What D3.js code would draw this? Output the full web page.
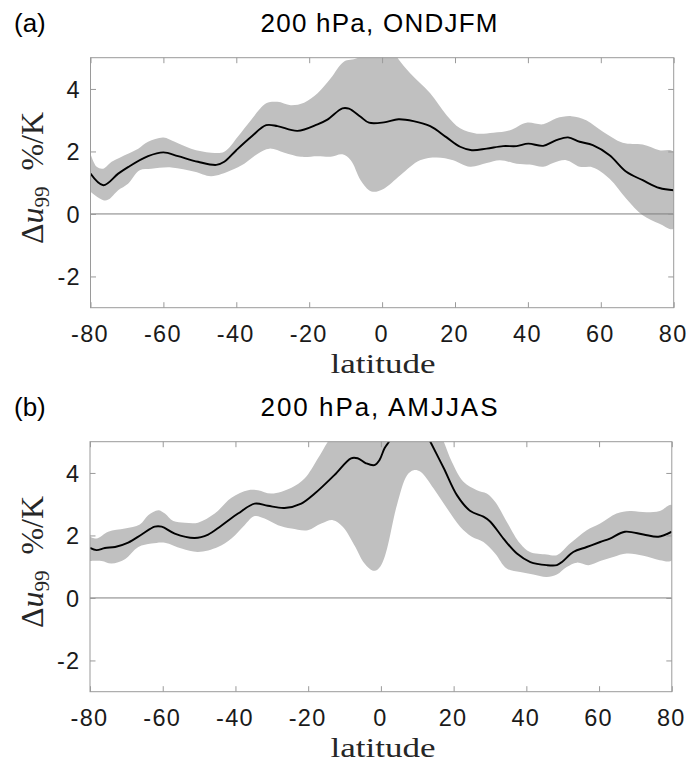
<!DOCTYPE html>
<html><head><meta charset="utf-8">
<script src="https://cdn.jsdelivr.net/npm/d3@7"></script>
<style>body{margin:0;background:#fff}</style>
</head><body><svg id="c" width="689" height="764"></svg>
<script>
// ---- data ----
const latTicks = [-80, -60, -40, -20, 0, 20, 40, 60, 80];
const valTicks = [-2, 0, 2, 4];
const panelLabels = ["(a)", "(b)"];
const panelTitles = ["200 hPa, ONDJFM", "200 hPa, AMJJAS"];
const xLabel = "latitude";

// panel (a) ONDJFM: [latitude, %/K]
const aMean = [[-80,1.29],[-76.5,0.92],[-72.4,1.29],[-69.7,1.5],[-64.2,1.85],[-60,1.97],[-56,1.85],[-50.5,1.67],[-45.5,1.57],[-43.3,1.67],[-40,2.04],[-35.9,2.47],[-31.8,2.84],[-28.7,2.81],[-23.2,2.66],[-17.7,2.87],[-15,3.02],[-10.9,3.38],[-9.1,3.37],[-5.9,3.11],[-3.6,2.92],[0.5,2.93],[4.5,3.03],[8.6,2.97],[13.2,2.81],[17.7,2.45],[21.4,2.15],[24.6,2.04],[28.7,2.09],[33.2,2.17],[36.9,2.17],[40.1,2.25],[44.2,2.18],[47.8,2.36],[51,2.45],[54.2,2.31],[57.8,2.2],[62.4,1.88],[67,1.35],[71.5,1.08],[76.1,0.83],[80,0.76]];
const aUpper = [[-80,1.93],[-78.3,1.51],[-76.5,1.45],[-74.2,1.67],[-69.7,1.93],[-66.9,2.09],[-64.2,2.31],[-60,2.45],[-56.9,2.31],[-52.4,2.09],[-46.9,1.96],[-43.3,1.99],[-39.6,2.47],[-36,3.0],[-31.8,3.54],[-28.7,3.59],[-25.1,3.48],[-21.4,3.56],[-17.7,3.86],[-14.1,4.34],[-10.5,4.87],[-6.9,4.98],[-4,5.2],[0,5.4],[3,5.2],[4.5,4.95],[7.7,4.5],[13.2,3.86],[17.7,3.16],[21.4,2.74],[26,2.57],[30.5,2.6],[35.1,2.68],[39.6,2.92],[44.2,2.87],[47.8,3.06],[51.9,3.13],[56,3.0],[60.6,2.63],[66,2.28],[71.5,2.22],[76.1,2.04],[80,1.99]];
const aLower = [[-80,0.71],[-76.5,0.44],[-75.1,0.46],[-72.4,0.76],[-69.7,0.97],[-66.5,1.4],[-63.3,1.45],[-57.8,1.49],[-51.4,1.35],[-46.9,1.21],[-41.4,1.4],[-37.8,1.61],[-34.1,1.93],[-30.9,2.09],[-26.8,1.96],[-22.3,1.83],[-17.7,1.85],[-14.1,1.83],[-10.9,1.91],[-8.6,1.72],[-5.9,1.08],[-3.6,0.76],[-2.2,0.71],[0.5,0.81],[5,1.24],[10.4,1.72],[15,1.81],[19.5,1.72],[24.1,1.51],[28.7,1.63],[32.3,1.72],[36.9,1.61],[40.5,1.58],[44.2,1.51],[46.9,1.63],[50.5,1.72],[54.2,1.51],[57.8,1.49],[62.4,1.13],[67,0.49],[71.5,-0.04],[76.1,-0.31],[80,-0.47]];

// panel (b) AMJJAS
const bMean = [[-80,1.6],[-78.2,1.53],[-75.9,1.6],[-73.1,1.63],[-69.5,1.77],[-65.8,2.03],[-62.2,2.28],[-60.3,2.28],[-56.7,2.06],[-51.2,1.92],[-47.5,2.03],[-43.9,2.31],[-39.3,2.7],[-34.7,3.02],[-31.1,2.95],[-26.5,2.88],[-21.9,3.02],[-18.2,3.34],[-12.8,3.93],[-8.2,4.47],[-6.4,4.47],[-4.1,4.31],[-1.8,4.25],[-0.4,4.41],[1,4.79],[2.2,5.0],[5,5.6],[8,5.8],[11,5.6],[13.6,5.0],[17.3,4.15],[20.9,3.29],[24.6,2.78],[28.2,2.6],[30.1,2.44],[33.7,1.9],[37.4,1.42],[41.1,1.15],[45.6,1.05],[48.4,1.05],[49.8,1.15],[52.9,1.47],[56.6,1.63],[60.3,1.79],[63,1.9],[67.1,2.12],[72.2,2.03],[76.3,1.96],[80,2.12]];
const bUpper = [[-80,1.96],[-78.2,1.9],[-75,2.12],[-70.4,2.22],[-66.3,2.35],[-64,2.65],[-61.2,2.81],[-59.4,2.7],[-57.1,2.46],[-53.9,2.41],[-50.3,2.41],[-45.7,2.7],[-41.1,3.21],[-36.5,3.45],[-33.8,3.45],[-30.1,3.34],[-24.6,3.53],[-21,3.82],[-17.3,4.47],[-14.6,5.0],[-10,5.8],[0,6.5],[10,6.5],[15,5.6],[17.3,5.0],[19.5,4.36],[22.7,3.72],[26.4,3.45],[29.1,3.34],[31.4,3.08],[34.6,2.44],[38.3,1.74],[41,1.47],[45.6,1.39],[48.4,1.37],[52,1.74],[56.6,2.17],[60.3,2.38],[64.8,2.7],[68.5,2.78],[73.1,2.74],[76.7,2.78],[80,2.97]];
const bLower = [[-80,1.18],[-76.8,1.18],[-74.1,1.1],[-70.4,1.24],[-66.7,1.63],[-63.1,1.74],[-59.4,1.77],[-54.8,1.58],[-50.3,1.47],[-44.8,1.63],[-41.1,1.9],[-37.5,2.33],[-34.7,2.62],[-32,2.54],[-28.3,2.33],[-24.6,2.22],[-20.1,2.17],[-16.4,2.38],[-13.2,2.49],[-10.5,2.28],[-7.3,1.69],[-4.5,1.1],[-2.2,0.87],[-0.8,0.92],[0.5,1.15],[1.7,1.58],[4.4,2.97],[7.2,3.93],[9,4.09],[10.9,4.04],[14.5,3.5],[18.2,2.86],[21.8,2.28],[25,1.96],[28.2,1.79],[31.4,1.42],[34.6,0.94],[38.3,0.83],[41.9,0.75],[45.6,0.67],[48.4,0.75],[51.1,0.99],[53.9,1.13],[57.1,1.05],[60.3,1.18],[63.9,1.31],[67.6,1.42],[72.2,1.35],[76.7,1.21],[80,1.21]];

// ---- layout ----
const panels = [
  {mean: aMean, upper: aUpper, lower: aLower, left: 90.5, right: 673.7, top: 57.7, bottom: 307.7, dy: 0},
  {mean: bMean, upper: bUpper, lower: bLower, left: 90, right: 671.8, top: 441.7, bottom: 691.7, dy: 384}
];

const svg = d3.select("#c");
const tickFont = "'Liberation Sans', Arial, Helvetica, sans-serif";
const serif = "'Liberation Serif', 'DejaVu Serif', serif";
const axisCol = "#9a9a9a";
const tickLen = 5.5;
const fmt = d => String(d);

panels.forEach((p, i) => {
  const x = d3.scaleLinear().domain([-80, 80]).range([p.left, p.right]);
  const y = d3.scaleLinear().domain([-3, 5]).range([p.bottom, p.top]);
  const g = svg.append("g");
  const clipId = "clip" + i;
  g.append("clipPath").attr("id", clipId).append("rect")
    .attr("x", p.left).attr("y", p.top).attr("width", p.right - p.left).attr("height", p.bottom - p.top);

  const plot = g.append("g").attr("clip-path", `url(#${clipId})`);
  const line = d3.line().x(d => x(d[0])).y(d => y(d[1])).curve(d3.curveCatmullRom.alpha(0.5));
  const poly = p.upper.concat(p.lower.slice().reverse());
  plot.append("path").attr("d", line(poly) + "Z").attr("fill", "#c0c0c0").attr("stroke", "none");
  plot.append("line").attr("x1", x(-80)).attr("x2", x(80)).attr("y1", y(0)).attr("y2", y(0))
    .attr("stroke", "#7f7f7f").attr("stroke-width", 1);
  plot.append("path").attr("d", line(p.mean)).attr("fill", "none").attr("stroke", "#000").attr("stroke-width", 1.9);

  // box
  g.append("rect").attr("x", p.left).attr("y", p.top).attr("width", p.right - p.left).attr("height", p.bottom - p.top)
    .attr("fill", "none").attr("stroke", axisCol).attr("stroke-width", 1);

  // axes (inward ticks on all four sides)
  const ax = (gen, tx, ty) => {
    const a = g.append("g").attr("transform", `translate(${tx},${ty})`).call(gen);
    a.select(".domain").remove();
    a.selectAll(".tick line").attr("stroke", axisCol);
    return a;
  };
  const xb = ax(d3.axisBottom(x).tickValues(latTicks).tickFormat(fmt).tickSizeInner(-tickLen).tickSizeOuter(0).tickPadding(0), 0, p.bottom);
  xb.selectAll(".tick text").attr("y", 34).attr("dy", 0).attr("x", -1)
    .style("font-family", tickFont).style("font-size", "23.5px").style("letter-spacing", "1.3px").attr("fill", "#1a1a1a");
  ax(d3.axisTop(x).tickValues(latTicks).tickSizeInner(-tickLen).tickSizeOuter(0).tickFormat(""), 0, p.top);
  const yl = ax(d3.axisLeft(y).tickValues(valTicks).tickFormat(fmt).tickSizeInner(-tickLen).tickSizeOuter(0).tickPadding(0), p.left, 0);
  yl.selectAll(".tick text").attr("x", -10).attr("dy", "0.36em")
    .style("font-family", tickFont).style("font-size", "23.5px").style("letter-spacing", "1px").attr("fill", "#1a1a1a");
  ax(d3.axisRight(y).tickValues(valTicks).tickSizeInner(-tickLen).tickSizeOuter(0).tickFormat(""), p.right, 0);

  // panel label & title
  svg.append("text").attr("x", 14).attr("y", 32 + p.dy).text(panelLabels[i])
    .style("font-family", tickFont).style("font-size", "26px").attr("fill", "#000");
  svg.append("text").attr("x", 379).attr("y", 32.3 + p.dy).attr("text-anchor", "middle")
    .attr("textLength", 237).attr("lengthAdjust", "spacing").text(panelTitles[i])
    .style("font-family", tickFont).style("font-size", "26px").attr("fill", "#000");

  // x label
  svg.append("text").attr("x", 383).attr("y", 372.5 + p.dy).attr("text-anchor", "middle")
    .attr("textLength", 105).attr("lengthAdjust", "spacingAndGlyphs").text(xLabel)
    .style("font-family", serif).style("font-size", "28px").attr("fill", "#262626");

  // y label
  const yt = svg.append("text").attr("transform", `translate(43,${178 + p.dy}) rotate(-90)`)
    .attr("text-anchor", "middle").style("font-family", serif).style("font-size", "32px").attr("fill", "#262626");
  yt.append("tspan").text("Δ");
  yt.append("tspan").style("font-style", "italic").text("u");
  yt.append("tspan").attr("dy", 6).style("font-size", "21px").text("99");
  yt.append("tspan").attr("dy", -6).text("\u2002%/K");
});
</script></body></html>
